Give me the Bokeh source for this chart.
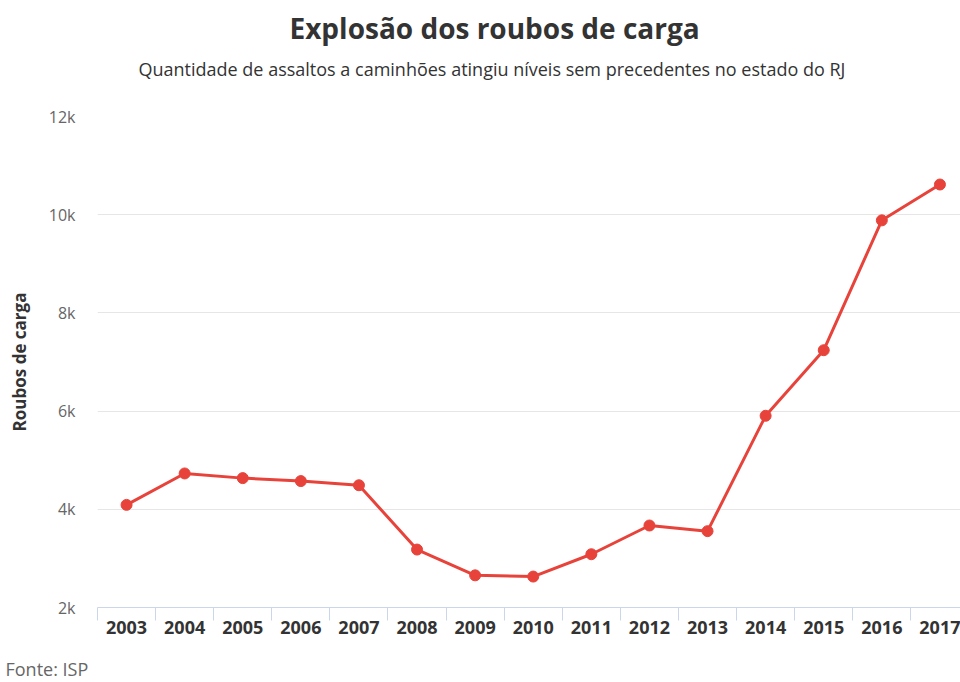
from bokeh.plotting import figure
from bokeh.models import FixedTicker, NumeralTickFormatter, Title, Range1d, ColumnDataSource
from bokeh.embed import file_html
from bokeh.resources import INLINE

# ---- data ----
years = list(range(2003, 2018))
roubos = [4090, 4730, 4635, 4575, 4490, 3180, 2655, 2630, 3085, 3670, 3555, 5905, 7240, 9885, 10615]
y_ticks = [2000, 4000, 6000, 8000, 10000, 12000]
category_edges = [y - 0.5 for y in years] + [years[-1] + 0.5]

title_text = "Explosão dos roubos de carga"
subtitle_text = "Quantidade de assaltos a caminhões atingiu níveis sem precedentes no estado do RJ"
y_title = "Roubos de carga"
source_text = "Fonte: ISP"

RED = "#e8433a"
FONT = "Open Sans"

src = ColumnDataSource(dict(year=years, value=roubos))

p = figure(width=960, height=682, output_backend="svg", toolbar_location=None,
           x_range=Range1d(2002.5, 2017.354), y_range=Range1d(2000, 12000),
           min_border_left=97, min_border_right=0, min_border_top=116, min_border_bottom=75)
p.outline_line_color = None
p.background_fill_color = "white"
p.border_fill_color = "white"

# grid
p.xgrid.grid_line_color = None
p.ygrid.grid_line_color = "#e6e6e6"
p.ygrid.grid_line_width = 1
p.ygrid.ticker = FixedTicker(ticks=y_ticks)

# x axis
xa = p.xaxis[0]
xa.ticker = FixedTicker(ticks=years, minor_ticks=category_edges)
xa.axis_line_color = "#ccd6eb"
xa.axis_line_width = 1
xa.major_tick_in = 0
xa.major_tick_out = 0
xa.minor_tick_in = 0
xa.minor_tick_out = 13
xa.minor_tick_line_color = "#ccd6eb"
xa.major_label_text_font = FONT
xa.major_label_text_font_style = "bold"
xa.major_label_text_font_size = "18px"
xa.major_label_text_color = "#333333"
xa.major_label_standoff = 0

# y axis
ya = p.yaxis[0]
ya.ticker = FixedTicker(ticks=y_ticks)
ya.formatter = NumeralTickFormatter(format="0a")
ya.axis_line_color = None
ya.major_tick_line_color = None
ya.minor_tick_line_color = None
ya.major_tick_in = 0
ya.major_tick_out = 0
ya.major_label_standoff = 22
ya.major_label_text_font = FONT
ya.major_label_text_font_size = "16px"
ya.major_label_text_color = "#666666"
ya.axis_label = y_title
ya.axis_label_text_font = FONT
ya.axis_label_text_font_style = "bold"
ya.axis_label_text_font_size = "17px"
ya.axis_label_text_color = "#333333"
ya.axis_label_standoff = 15

# series
p.line("year", "value", source=src, line_color=RED, line_width=3)
p.scatter("year", "value", source=src, size=11, fill_color=RED, line_color=RED)

# titles above (first added = closest to the frame)
p.add_layout(Title(text=" ", text_font_size="1px", standoff=32), "above")
p.add_layout(Title(text=subtitle_text, align="left", offset=41, standoff=0,
                   vertical_align="middle", text_font=FONT, text_font_style="normal",
                   text_font_size="18px", text_color="#333333"), "above")
p.add_layout(Title(text=title_text, align="left", offset=192, standoff=14,
                   vertical_align="top", text_font=FONT, text_font_style="bold",
                   text_font_size="28px", text_color="#333333"), "above")

# source note below
p.add_layout(Title(text=" ", text_font_size="1px", standoff=19), "below")
p.add_layout(Title(text=source_text, align="left", offset=-92, standoff=-8,
                   vertical_align="bottom", text_font=FONT, text_font_style="normal",
                   text_font_size="18px", text_color="#666666"), "below")

open("out.html", "w").write(file_html(p, INLINE))
